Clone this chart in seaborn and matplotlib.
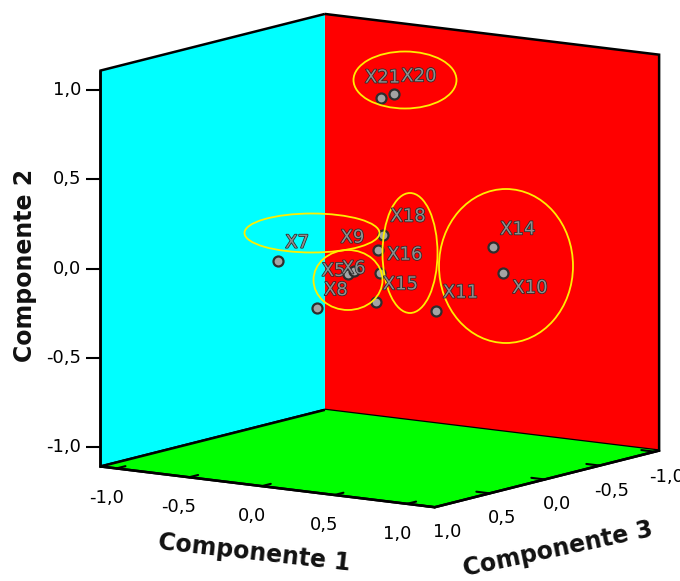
import numpy as np
import matplotlib
matplotlib.use("Agg")
import matplotlib.pyplot as plt
import matplotlib.patheffects as pe
import seaborn as sns
from matplotlib.patches import Ellipse
from matplotlib.ticker import FuncFormatter
from mpl_toolkits.mplot3d import proj3d

# component loadings
labels = ["X7", "X8", "X5", "X6", "X9", "X18", "X16", "X15", "X11", "X14", "X10", "X21", "X20"]
comp1 = [0.00, 0.10, 0.20, 0.25, 0.30, 0.30, 0.30, 0.30, 0.60, 0.85, 0.90, 0.15, 0.20]
comp2 = [0.13, -0.16, 0.02, 0.04, 0.14, 0.22, 0.01, -0.15, -0.19, 0.16, 0.02, 0.94, 0.96]
comp3 = [0.85, 0.63, 0.48, 0.49, 0.34, 0.29, 0.32, 0.36, 0.21, 0.02, 0.00, 0.11, 0.06]
ticks = [-1.0, -0.5, 0.0, 0.5, 1.0]

# label offsets (points) that differ from the usual up-right placement
label_offsets = {"X10": (7, -11), "X21": (-12, 15), "X9": (-27, 9),
                 "X5": (-19, 2), "X6": (-9, 2)}

# yellow highlight rings, in image pixels (cx, cy, w, h)
rings = [(405, 80, 103, 57), (312, 233, 135, 39), (348, 280, 69, 60),
         (410, 253, 55, 120), (506, 266, 134, 154)]

sns.set_theme(style="white")
plt.rcParams["font.family"] = ["DejaVu Sans"]

W, H = 680, 581
fig = plt.figure(figsize=(W / 100, H / 100), dpi=100)
ax = fig.add_axes([0.047, 0.038, 1, 1], projection="3d", proj_type="ortho")
ax.view_init(elev=10.1, azim=34.8)
ax.set_box_aspect((0.966, 1.0, 0.988), zoom=1.16)

# x = Componente 3, y = Componente 1, z = Componente 2
ax.set_xlim(-1.04, 1.0)
ax.set_ylim(-1.11, 1.19)
ax.set_zlim(-1.11, 1.11)

fmt = FuncFormatter(lambda v, p: f"{(0.0 if abs(v) < 1e-9 else v):.1f}".replace(".", ","))
ax.xaxis.set_pane_color((1, 0, 0, 1))
ax.yaxis.set_pane_color((0, 1, 1, 1))
ax.zaxis.set_pane_color((0, 1, 0, 1))
for a in (ax.xaxis, ax.yaxis, ax.zaxis):
    a.pane.set_edgecolor("black")
    a.pane.set_linewidth(1.8)
    a.line.set_color("black")
    a.line.set_linewidth(1.8)
    a.set_ticks(ticks)
    a.set_major_formatter(fmt)
    a._axinfo["tick"]["inward_factor"] = 0.0
    a._axinfo["tick"]["outward_factor"] = 0.5
    a._axinfo["tick"]["linewidth"] = {True: 1.5, False: 1.0}
ax.tick_params(labelsize=13, colors="black", pad=2)
ax.xaxis.set_tick_params(pad=0)
# vertical axis ticks are redrawn flat, SPSS style
ax.zaxis._axinfo["tick"]["outward_factor"] = 0.0
ax.zaxis.set_ticklabels([])
ax.grid(False)

ax.scatter(comp3, comp1, comp2, s=52, c="#a4a4a4", edgecolors="#2e2e2e",
           linewidths=1.6, depthshade=False)

# overlay for labels, vertical ticks and the hand-drawn rings
ov = fig.add_axes([0, 0, 1, 1])
ov.set_xlim(0, W)
ov.set_ylim(H, 0)
ov.axis("off")
ov.patch.set_alpha(0)
for cx, cy, w, h in rings:
    ov.add_patch(Ellipse((cx, cy), w, h, fill=False, edgecolor="#ffee00", linewidth=1.3))

fig.canvas.draw()


def to_overlay(xs, ys, zs):
    px, py, _ = proj3d.proj_transform(np.asarray(xs, float), np.asarray(ys, float),
                                      np.asarray(zs, float), ax.M)
    disp = ax.transData.transform(np.column_stack([px, py]))
    return ov.transData.inverted().transform(disp)


x0, x1 = ax.get_xlim()
y0, y1 = ax.get_ylim()
z0, z1 = ax.get_zlim()

# point labels: grey letters with a dark rim
rim = [pe.withStroke(linewidth=1.1, foreground="#2a2a2a")]
for lab, (u, v) in zip(labels, to_overlay(comp3, comp1, comp2)):
    dx, dy = label_offsets.get(lab, (5, 13))
    ov.annotate(lab, xy=(u, v), xytext=(dx, dy), textcoords="offset points",
                ha="left", va="center", fontsize=13, color="#8e8e8e", path_effects=rim)

# Componente 2 ticks on the front-left edge
for t, (u, v) in zip(ticks, to_overlay([x1] * 5, [y0] * 5, ticks)):
    ov.plot([u - 14, u], [v, v], color="black", lw=1.5, solid_capstyle="butt")
    ov.text(u - 19, v, fmt(t), ha="right", va="center", fontsize=13, color="black")

# axis titles, placed from the middle of their edge
axis_titles = [("Componente 1", (x1, y0, z0), (x1, y1, z0), (-13, 66), -6.4),
               ("Componente 3", (x1, y1, z0), (x0, y1, z0), (11, 70), 12.0),
               ("Componente 2", (x1, y0, z0), (x1, y0, z1), (-75, -3), 90.0)]
for title, p_a, p_b, (ox, oy), ang in axis_titles:
    (ua, va), (ub, vb) = to_overlay(*zip(p_a, p_b))
    ov.text((ua + ub) / 2 + ox, (va + vb) / 2 + oy, title, rotation=ang,
            rotation_mode="anchor", ha="center", va="center",
            fontsize=17, fontweight="bold", color="#111111")

fig.savefig("out.png", dpi=100)
